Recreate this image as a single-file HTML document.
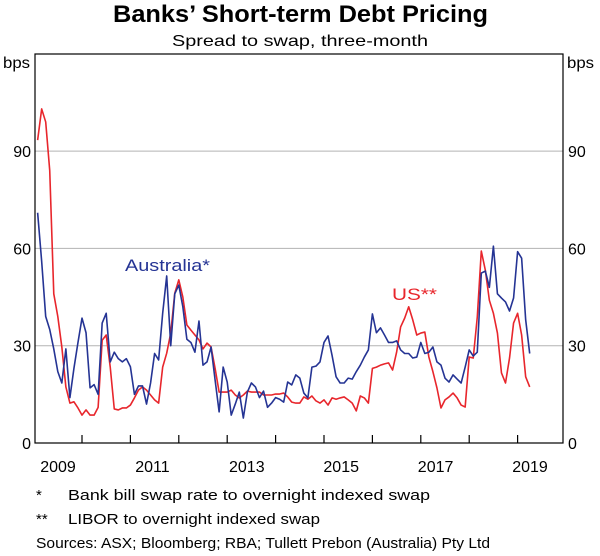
<!DOCTYPE html>
<html><head><meta charset="utf-8"><style>
body{margin:0;background:#fff;}
svg text{font-family:"Liberation Sans",Arial,sans-serif;}
</style></head><body>
<svg width="600" height="551" viewBox="0 0 600 551" xmlns="http://www.w3.org/2000/svg">
<text x="113" y="22" font-size="24" font-weight="bold" textLength="375" lengthAdjust="spacingAndGlyphs">Banks’ Short-term Debt Pricing</text>
<text x="172" y="46" font-size="16" textLength="256" lengthAdjust="spacingAndGlyphs">Spread to swap, three-month</text>
<text x="3" y="68" font-size="16" textLength="27" lengthAdjust="spacingAndGlyphs">bps</text>
<text x="567" y="68" font-size="16" textLength="27" lengthAdjust="spacingAndGlyphs">bps</text>
<g id="grid"></g>
<g id="series"></g>
<rect x="35" y="54" width="528" height="389" fill="none" stroke="#000" stroke-width="1.2"/>
<g id="axes"></g>
<text x="125" y="271" font-size="17" fill="#253494" textLength="85" lengthAdjust="spacingAndGlyphs">Australia*</text>
<text x="392" y="300" font-size="17" fill="#e8262c" textLength="45" lengthAdjust="spacingAndGlyphs">US**</text>
<text x="36" y="500" font-size="15">*</text>
<text x="68" y="500" font-size="15" textLength="362" lengthAdjust="spacingAndGlyphs">Bank bill swap rate to overnight indexed swap</text>
<text x="36" y="524" font-size="15">**</text>
<text x="68" y="524" font-size="15" textLength="252" lengthAdjust="spacingAndGlyphs">LIBOR to overnight indexed swap</text>
<text x="36" y="548" font-size="15" textLength="454" lengthAdjust="spacingAndGlyphs">Sources: ASX; Bloomberg; RBA; Tullett Prebon (Australia) Pty Ltd</text>
</svg>
<script>
const yTicks=[0,30,60,90];
const yearLabels=["2009","2011","2013","2015","2017","2019"];
const yearTicks=[2010,2011,2012,2013,2014,2015,2016,2017,2018,2019];
const startYear=2009, startMonth=1;
const auValues=[71,56,39,35,29,22,18.5,29,14,23,31,38.5,34,17,18,15,37,40,25,28,26,25,26,23.5,15,17.6,17.6,12,18.5,27.6,25.6,40,51.5,30,46,48.7,42,32,31,28,37.6,24,25,29.6,19.4,9.6,23.4,18.8,8.6,12,15.7,7.7,15.7,18.5,17.3,14,16,11,12.3,14,13.5,12.6,18.8,17.9,21,20,15.4,13.9,23.4,23.7,25,31,33,27,20.4,18.5,18.5,20,19.7,22,24,26.5,28.7,39.8,34,35.5,33.3,31,31,31.5,28.7,27.6,27.6,26.2,26.5,31,27.6,28,29.6,25,24,20,18.8,21,19.7,18.5,23.4,28.7,26.8,28,52.4,53,48,60.7,46,44.7,43.5,40.7,44.7,59,57,38,27.6];
const usValues=[93.4,103,99,84,46,39,29.6,17.3,12.3,12.7,10.8,8.6,10.2,8.6,8.6,11,31.7,33.3,23.4,10.5,10.2,10.8,10.8,11.7,13.9,16.3,17.3,16.3,14.8,13.3,12.3,23.4,27.7,33.9,46.2,50.3,45,36.4,34.8,33.3,31.8,29,30.8,29.6,23,15.7,15.7,15.7,16.3,14.8,13.9,14.8,16,15.7,15.7,15.7,14.8,14.8,14.8,15.1,15.1,15.4,14.2,12.6,12.3,12.3,14.2,13.5,14.5,13,12.3,13.3,11.7,13.9,13.5,13.9,14.2,13.3,12.3,9.9,14.5,13.9,12.3,23,23.4,24,24.4,24.7,22.5,28,35.8,38.5,42,38,33.3,33.9,34.2,26.5,22,17,10.8,13.3,14.2,15.4,13.9,11.7,11.1,26.5,26.2,38.8,59.2,53.3,44,40,33.9,21.6,18.5,26.2,37,40,33.3,20.4,17.3];

const NS="http://www.w3.org/2000/svg";
function xOfYear(t){return 33.6+(t-2009)*48.4;}
function xOfIndex(i){return xOfYear(startYear+(startMonth+i)/12);}
function yOf(v){return 443-v*3.243;}
function mk(tag,attrs,parent){const e=document.createElementNS(NS,tag);for(const k in attrs)e.setAttribute(k,attrs[k]);parent.appendChild(e);return e;}
const grid=document.getElementById('grid'),axes=document.getElementById('axes'),ser=document.getElementById('series');
yTicks.forEach(v=>{
  if(v>0){const l=mk('line',{x1:35,x2:563,y1:yOf(v),y2:yOf(v),stroke:'#b3b3b3','stroke-width':1},grid);
  
  }
  const a=mk('text',{x:31,y:yOf(v)+6,'text-anchor':'end','font-size':16},axes);a.textContent=v;
  
  
  const b=mk('text',{x:568,y:yOf(v)+6,'font-size':16},axes);b.textContent=v;
  
  
});
yearTicks.forEach(t=>{const l=mk('line',{x1:xOfYear(t),x2:xOfYear(t),y1:443,y2:435,stroke:'#000','stroke-width':1.2},axes);
  
  });
yearLabels.forEach((s,i)=>{const e=mk('text',{x:58+i*94.4,y:472,'text-anchor':'middle','font-size':16},axes);e.textContent=s;
  
  });
function line(vals,color,name){
  const d=vals.map((v,i)=>(i?'L':'M')+xOfIndex(i).toFixed(2)+','+yOf(v).toFixed(2)).join('');
  const p=mk('path',{d:d,fill:'none',stroke:color,'stroke-width':1.6,'stroke-linejoin':'round'},ser);
  
  
}
line(usValues,'#e8262c','us-line');
line(auValues,'#253494','australia-line');
</script>
</body></html>
